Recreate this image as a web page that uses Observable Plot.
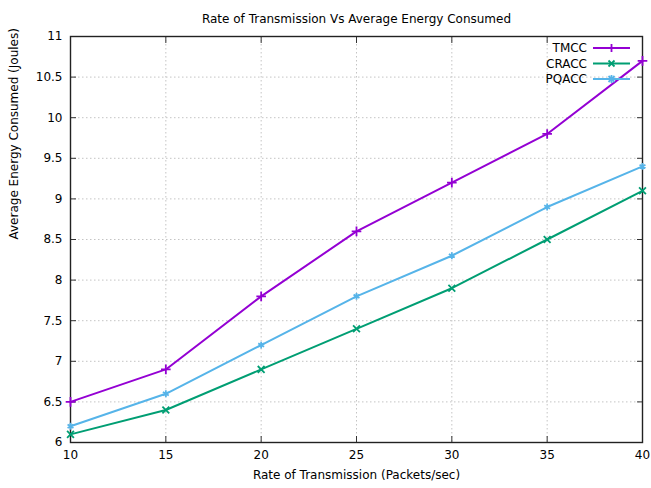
<!DOCTYPE html>
<html><head><meta charset="utf-8">
<script src="https://cdn.jsdelivr.net/npm/d3@7"></script>
<script src="https://cdn.jsdelivr.net/npm/@observablehq/plot@0.6"></script>
<style>
body{margin:0;background:#fff;font-family:"DejaVu Sans",sans-serif;}
#wrap{position:relative;width:651px;height:488px;}
#legend{position:absolute;left:0;top:0;}
</style>
</head><body><div id="wrap"></div>
<script>
const rates = [10, 15, 20, 25, 30, 35, 40];
const tmcc  = [6.5, 6.9, 7.8, 8.6, 9.2, 9.8, 10.7];
const cracc = [6.1, 6.4, 6.9, 7.4, 7.9, 8.5, 9.1];
const pqacc = [6.2, 6.6, 7.2, 7.8, 8.3, 8.9, 9.4];
const seriesNames = ["TMCC", "CRACC", "PQACC"];
const seriesColors = ["#9400d3", "#009e73", "#56b4e9"];
const seriesSymbols = ["plus", "times", "asterisk"];
const xTicks = [10, 15, 20, 25, 30, 35, 40];
const yTicks = [6, 6.5, 7, 7.5, 8, 8.5, 9, 9.5, 10, 10.5, 11];

const allSeries = [tmcc, cracc, pqacc];
const data = [];
allSeries.forEach((vals, i) => vals.forEach((v, j) => data.push({series: seriesNames[i], x: rates[j], y: v})));

const font = "DejaVu Sans, sans-serif";
const gridStyle = {stroke: "#c4c4c4", strokeOpacity: 1, strokeDasharray: "1.5,2.5", strokeWidth: 1};
const chart = Plot.plot({
  width: 651, height: 488,
  marginTop: 36, marginBottom: 46, marginLeft: 70, marginRight: 9,
  style: {fontFamily: font, fontSize: "12px", color: "#000", background: "#fff"},
  x: {domain: [10, 40], ticks: xTicks},
  y: {domain: [6, 11], ticks: yTicks},
  color: {domain: seriesNames, range: seriesColors},
  symbol: {domain: seriesNames, range: seriesSymbols},
  marks: [
    Plot.gridX(xTicks.slice(1, -1), gridStyle),
    Plot.gridY(yTicks.slice(1, -1), gridStyle),
    Plot.axisX(xTicks, {tickSize: -6, tickPadding: 14, fontSize: 12, label: null, stroke: "#333"}),
    Plot.axisX(xTicks, {anchor: "top", tickSize: -6, tickFormat: () => "", label: null, stroke: "#333"}),
    Plot.axisY(yTicks, {tickSize: -6, tickPadding: 14, fontSize: 12, label: null, tickFormat: d => String(d), stroke: "#333"}),
    Plot.axisY(yTicks, {anchor: "right", tickSize: -6, tickFormat: () => "", label: null, stroke: "#333"}),
    Plot.frame({stroke: "#222", strokeWidth: 1.4}),
    Plot.line(data, {x: "x", y: "y", z: "series", stroke: "series", strokeWidth: 2}),
    Plot.dot(data, {x: "x", y: "y", stroke: "series", symbol: "series", r: 3.2, strokeWidth: 1.8}),
    Plot.text(["Rate of Transmission Vs Average Energy Consumed"], {frameAnchor: "top", dy: -22, fontSize: 12, text: d => d}),
    Plot.text(["Rate of Transmission (Packets/sec)"], {frameAnchor: "bottom", dy: 36, fontSize: 12, text: d => d}),
    Plot.text(["Average Energy Consumed (Joules)"], {frameAnchor: "left", dx: -56, rotate: -90, fontSize: 12, text: d => d})
  ]
});
document.getElementById("wrap").appendChild(chart);

// legend overlay
const lg = d3.select("#wrap").append("svg").attr("id", "legend").attr("width", 651).attr("height", 488);
const symMap = {plus: [[-4,0,4,0],[0,-4,0,4]], times: [[-3,-3,3,3],[-3,3,3,-3]], asterisk: [[-4,0,4,0],[0,-4,0,4],[-3,-3,3,3],[-3,3,3,-3]]};
seriesNames.forEach((name, i) => {
  const yy = 48 + i * 15.5, xx = 611.5;
  lg.append("text").attr("x", 587).attr("y", yy).attr("dy", "0.35em").attr("text-anchor", "end")
    .attr("font-family", font).attr("font-size", 12).text(name);
  lg.append("line").attr("x1", 593).attr("x2", 630).attr("y1", yy).attr("y2", yy)
    .attr("stroke", seriesColors[i]).attr("stroke-width", 2);
  symMap[seriesSymbols[i]].forEach(s => lg.append("line").attr("x1", xx + s[0]).attr("y1", yy + s[1]).attr("x2", xx + s[2]).attr("y2", yy + s[3])
    .attr("stroke", seriesColors[i]).attr("stroke-width", 1.8));
});
</script></body></html>
